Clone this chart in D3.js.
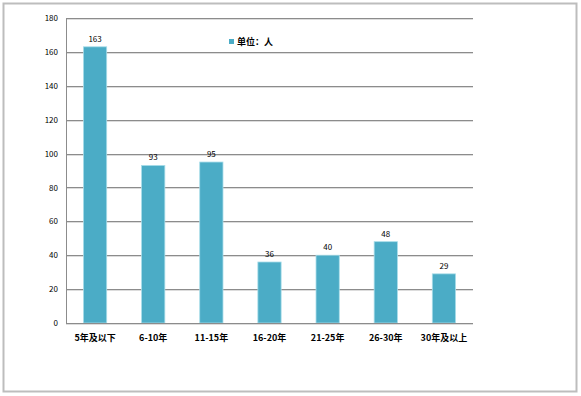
<!DOCTYPE html>
<html>
<head>
<meta charset="utf-8">
<script src="https://cdn.jsdelivr.net/npm/d3@7"></script>
<style>
  body { margin: 0; background: #fff; }
  text { font-family: "Noto Sans CJK SC", "DejaVu Sans", sans-serif; }
</style>
</head>
<body>
<div id="chart-area"></div>
<script>
// DATA
var categories = ["5年及以下", "6-10年", "11-15年", "16-20年", "21-25年", "26-30年", "30年及以上"];
var values = [163, 93, 95, 36, 40, 48, 29];
var yTicks = [0, 20, 40, 60, 80, 100, 120, 140, 160, 180];
var legendLabel = "单位：人";

var W = 581, H = 396;
var margin = { top: 18, right: 108, bottom: 73, left: 66 };
var width = W - margin.left - margin.right;
var height = H - margin.top - margin.bottom;

var svg = d3.select("#chart-area")
    .append("svg")
    .attr("width", W)
    .attr("height", H);

// outer frame
svg.append("rect")
    .attr("x", 3.5).attr("y", 3.5)
    .attr("width", 573).attr("height", 388)
    .attr("fill", "#fff")
    .attr("stroke", "#bdbdbd")
    .attr("stroke-width", 2);

var g = svg.append("g")
    .attr("transform", "translate(" + margin.left + "," + margin.top + ")");

// SCALES
var x = d3.scaleBand()
    .domain(categories)
    .range([0, width])
    .paddingInner(0.6)
    .paddingOuter(0.3);

var y = d3.scaleLinear()
    .domain([0, 180])
    .range([height, 0]);

// gridlines
g.selectAll(".grid")
    .data(yTicks)
    .enter().append("line")
    .attr("class", "grid")
    .attr("x1", 0).attr("x2", width)
    .attr("y1", d => Math.round(y(d)) + 0.5)
    .attr("y2", d => Math.round(y(d)) + 0.5)
    .attr("stroke", "#8c8c8c")
    .attr("stroke-width", 1);
g.selectAll(".grid2")
    .data(yTicks)
    .enter().append("line")
    .attr("x1", 0).attr("x2", width)
    .attr("y1", d => Math.round(y(d)) + 1.5)
    .attr("y2", d => Math.round(y(d)) + 1.5)
    .attr("stroke", "#dcdcdc")
    .attr("stroke-width", 1);

// left axis
var leftAxis = d3.axisLeft(y)
    .tickValues(yTicks)
    .tickSize(0)
    .tickPadding(8);
var ya = g.append("g").attr("class", "left axis").call(leftAxis);
ya.select(".domain").remove();
ya.selectAll("text")
    .attr("font-size", "8px")
    .attr("fill", "#000");
g.append("line")
    .attr("x1", 0.5).attr("x2", 0.5)
    .attr("y1", 0).attr("y2", height)
    .attr("stroke", "#8c8c8c");

// BARS
g.selectAll(".bar")
    .data(values)
    .enter().append("rect")
    .attr("class", "bar")
    .attr("x", (d, i) => x(categories[i]))
    .attr("y", d => y(d))
    .attr("width", x.bandwidth())
    .attr("height", d => height - y(d))
    .attr("fill", "#4BACC6")
    .attr("stroke", "#a8dde9")
    .attr("stroke-width", 0.8);

// value labels
g.selectAll(".val")
    .data(values)
    .enter().append("text")
    .attr("class", "val")
    .attr("x", (d, i) => x(categories[i]) + x.bandwidth() / 2)
    .attr("y", d => y(d) - 5)
    .attr("text-anchor", "middle")
    .attr("font-size", "8px")
    .attr("fill", "#000")
    .text(d => d);

// bottom axis
var bottomAxis = d3.axisBottom(x).tickSize(0).tickPadding(12);
var xa = g.append("g")
    .attr("class", "bottom axis")
    .attr("transform", "translate(0," + height + ")")
    .call(bottomAxis);
xa.select(".domain").remove();
xa.selectAll("text")
    .attr("font-size", "9px")
    .attr("font-weight", "bold")
    .attr("fill", "#000");
g.append("line")
    .attr("x1", 0).attr("x2", width)
    .attr("y1", height + 0.5).attr("y2", height + 0.5)
    .attr("stroke", "#8c8c8c");

// legend
svg.append("rect")
    .attr("x", 229).attr("y", 39)
    .attr("width", 5).attr("height", 5)
    .attr("fill", "#4BACC6");
svg.append("text")
    .attr("x", 237).attr("y", 45)
    .attr("font-size", "9px")
    .attr("font-weight", "bold")
    .attr("fill", "#000")
    .text(legendLabel);
</script>
</body>
</html>
